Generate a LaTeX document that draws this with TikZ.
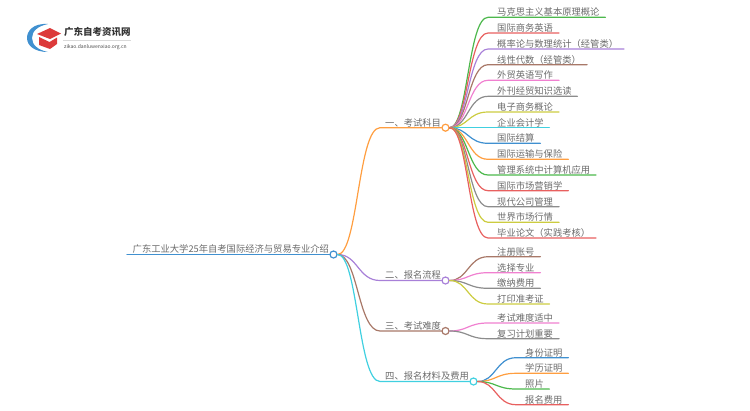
\documentclass[tikz,border=0pt]{standalone}
\usepackage{fontspec}
\setmainfont{Noto Sans CJK SC}
\tikzset{
  x=1pt,y=-1pt,
  wire/.style={line width=1.2pt,line cap=round},
  hub/.style={draw=#1,circle,fill=white,line width=1.2pt,minimum size=7pt,inner sep=0pt},
  leaf/.style={anchor=south west,inner xsep=0pt,inner ysep=0pt,text height=8pt,text depth=1.5pt,
    text=black!58,font=\fontsize{9.3pt}{10pt}\selectfont},
}
\definecolor{cgreen}{HTML}{4CB84C}
\definecolor{cred}{HTML}{E8605F}
\definecolor{cpurple}{HTML}{A880D8}
\definecolor{cbrown}{HTML}{A87868}
\definecolor{cpink}{HTML}{F080D0}
\definecolor{cgray}{HTML}{8C8C8C}
\definecolor{cyellow}{HTML}{CCCC40}
\definecolor{ccyan}{HTML}{40D0E0}
\definecolor{cblue}{HTML}{4090D0}
\definecolor{corange}{HTML}{FF9E40}
\definecolor{logored}{HTML}{DC3A3A}
\begin{document}
\begin{tikzpicture}
  \useasboundingbox (0,0) rectangle (750,410);
  % logo
  \fill[cblue] (48,24) .. controls (33,23) and (27,31) .. (27,38) .. controls (27,46) and (35,52) .. (48,52)
    .. controls (38,50) and (32,45) .. (32,38) .. controls (32,31) and (38,26) .. (48,24) -- cycle;
  \fill[logored] (50,28) -- (61,33.5) -- (50,39) -- (37,34) -- cycle;
  \fill[logored] (39,37) -- (49.5,42) -- (57,37.5) -- (57,44) -- (50,49) -- (39,45) -- cycle;
  \node[anchor=west,inner sep=0pt,font=\fontsize{9.5pt}{10pt}\selectfont\bfseries,text=black!80] (logotext) at (64,32) {广东自考资讯网};
  \draw[black!15,line width=.4pt] (63,40) -- (131,40);
  \node[anchor=west,inner sep=0pt,font=\fontsize{5pt}{5pt}\selectfont,text=black!70] (logourl) at (64,46.7) {zikao.danluwenxiao.org.cn};
  % root
  \node[leaf,text width=203pt] (root) at (127,254.5) {\hspace*{5.5pt}广东工业大学25年自考国际经济与贸易专业介绍};
  \node[hub=cblue] (roothub) at (333.5,254.5) {};
  \draw[wire,cblue,line width=1.5pt] (root.south west) -- (roothub.west);
  % branches
  \foreach \name/\ypos/\xend/\col/\txt in {
    a/127.7/445.5/corange/一、考试科目,
    b/280.5/445.5/cpurple/二、报名流程,
    c/331/445.5/cbrown/三、考试难度,
    d/381.5/473.5/ccyan/四、报名材料及费用}
  {
    \node[leaf,text width=\xend pt-380pt] (\name) at (380,\ypos) {\hspace*{5pt}\txt};
    \node[hub=\col] (\name hub) at (\xend,\ypos) {};
    \draw[wire,\col] (roothub.east) .. controls (358,254.5) and (358,\ypos) .. (\name.south west) -- (\name hub.west);
  }
  % leaves
  \foreach \name/\ypos/\xend/\col/\txt in {
    a1/17.3/605/cgreen/马克思主义基本原理概论,
    a2/33/558.7/cred/国际商务英语,
    a3/49/623.7/cpurple/概率论与数理统计（经管类）,
    a4/64.7/586.7/cbrown/线性代数（经管类）,
    a5/80.3/558.7/cpink/外贸英语写作,
    a6/96.3/577/cgray/外刊经贸知识选读,
    a7/112/558.7/cyellow/电子商务概论,
    a8/127.7/549/ccyan/企业会计学,
    a9/143.3/540/cblue/国际结算,
    a10/159.3/568/corange/国际运输与保险,
    a11/175/595.7/cgreen/管理系统中计算机应用,
    a12/190.7/568/cred/国际市场营销学,
    a13/206.7/558.7/cgray/现代公司管理,
    a14/222.3/558.7/cyellow/世界市场行情,
    a15/238/595.7/cred/毕业论文（实践考核）}
  {
    \node[leaf,text width=\xend pt-488pt] (\name) at (488,\ypos) {\hspace*{9pt}\txt};
    \draw[wire,\col] (ahub.east) .. controls (468,127.7) and (468,\ypos) .. (\name.south west) -- (\name.south east);
  }
  \foreach \name/\ypos/\xend/\col/\txt in {
    b1/256.7/540/cbrown/注册账号,
    b2/272.7/540/cpink/选择专业,
    b3/288.3/540/cgray/缴纳费用,
    b4/304/549/cyellow/打印准考证}
  {
    \node[leaf,text width=\xend pt-488pt] (\name) at (488,\ypos) {\hspace*{9pt}\txt};
    \draw[wire,\col] (bhub.east) .. controls (468,280.5) and (468,\ypos) .. (\name.south west) -- (\name.south east);
  }
  \foreach \name/\ypos/\col/\txt in {
    c1/323/cpink/考试难度适中,
    c2/338.7/cgray/复习计划重要}
  {
    \node[leaf,text width=70.7pt] (\name) at (488,\ypos) {\hspace*{9pt}\txt};
    \draw[wire,\col] (chub.east) .. controls (468,331) and (468,\ypos) .. (\name.south west) -- (\name.south east);
  }
  \foreach \name/\ypos/\xend/\col/\txt in {
    d1/357.7/568/cblue/身份证明,
    d2/373.3/568/corange/学历证明,
    d3/389/549/cgreen/照片,
    d4/404.7/568/cred/报名费用}
  {
    \node[leaf,text width=\xend pt-516pt] (\name) at (516,\ypos) {\hspace*{9pt}\txt};
    \draw[wire,\col] (dhub.east) .. controls (496,381.5) and (496,\ypos) .. (\name.south west) -- (\name.south east);
  }
\end{tikzpicture}
\end{document}
